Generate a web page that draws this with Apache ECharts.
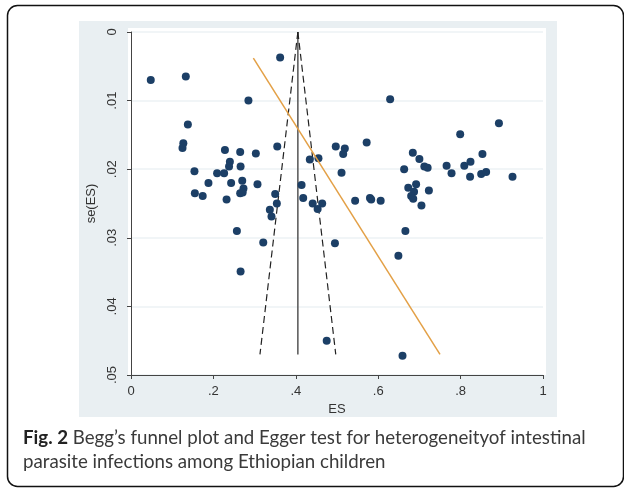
<!DOCTYPE html>
<html><head><meta charset="utf-8">
<script src="https://cdn.jsdelivr.net/npm/echarts@6/dist/echarts.min.js"></script>
<style>html,body{margin:0;padding:0;background:#fff}#c{width:624px;height:489px}</style>
</head><body><div id="c"></div>
<script>
// Study effect sizes (ES) and standard errors se(ES)
const esValues = [0.048,0.133,0.138,0.127,0.125,0.362,0.285,0.154,0.155,0.174,
  0.188,0.209,0.226,0.228,0.240,0.238,0.243,0.232,0.265,0.266,
  0.270,0.273,0.265,0.271,0.303,0.307,0.355,0.350,0.354,0.337,
  0.341,0.257,0.321,0.266,0.414,0.418,0.434,0.455,0.441,0.464,
  0.453,0.495,0.475,0.497,0.519,0.515,0.511,0.544,0.572,0.629,
  0.580,0.583,0.606,0.663,0.684,0.700,0.712,0.720,0.673,0.692,
  0.687,0.680,0.685,0.723,0.705,0.666,0.649,0.659,0.766,0.778,
  0.809,0.824,0.853,0.823,0.850,0.862,0.926,0.893,0.799];
const seValues = [0.0070,0.0065,0.0135,0.0162,0.0169,0.0037,0.0100,0.0203,0.0235,0.0239,
  0.0220,0.0206,0.0206,0.0172,0.0189,0.0196,0.0220,0.0244,0.0175,0.0196,
  0.0217,0.0228,0.0235,0.0234,0.0177,0.0222,0.0167,0.0236,0.0250,0.0259,
  0.0269,0.0290,0.0307,0.0349,0.0223,0.0242,0.0186,0.0184,0.0250,0.0250,
  0.0258,0.0308,0.0450,0.0167,0.0170,0.0178,0.0205,0.0246,0.0161,0.0098,
  0.0242,0.0244,0.0246,0.0200,0.0176,0.0185,0.0196,0.0198,0.0227,0.0222,
  0.0233,0.0239,0.0243,0.0231,0.0253,0.0290,0.0326,0.0472,0.0195,0.0206,
  0.0195,0.0189,0.0178,0.0211,0.0207,0.0204,0.0211,0.0133,0.0149];
// Pooled estimate line and funnel (pseudo 95% limits)
const pooledLineES = [0.405, 0.405];
const pooledLineSE = [0.0, 0.047];
const funnelLeftES = [0.405, 0.313];
const funnelLeftSE = [0.0, 0.047];
const funnelRightES = [0.405, 0.497];
const funnelRightSE = [0.0, 0.047];
// Egger regression line
const eggerES = [0.297, 0.750];
const eggerSE = [0.0038, 0.047];
// Tick labels
const xTickLabels = ['0', '.2', '.4', '.6', '.8', '1'];
const yTickLabels = ['0', '.01', '.02', '.03', '.04', '.05'];
const xName = 'ES';
const yName = 'se(ES)';
const captionBold = 'Fig. 2';
const captionLine1 = ' Begg\u2019s funnel plot and Egger test for heterogeneityof intestinal';
const captionLine2 = 'parasite infections among Ethiopian children';

const pairs = (xs, ys) => xs.map((x, i) => [x, ys[i]]);

const chart = echarts.init(document.getElementById('c'), null, {renderer: 'canvas'});
const axisCol = '#444';
const labelFont = 'Liberation Sans';
const capFont = 'Lato';
const capSize = 18.7;
chart.setOption({
  animation: false,
  backgroundColor: '#fff',
  grid: {left: 131, right: 81, top: 32, bottom: 114},
  xAxis: {
    type: 'value', min: 0, max: 1, interval: 0.2,
    name: xName, nameLocation: 'middle', nameGap: 24,
    nameTextStyle: {color: '#333', fontSize: 13, fontFamily: labelFont},
    axisLine: {show: true, onZero: false, lineStyle: {color: axisCol, width: 1}},
    axisTick: {show: true, length: 4, lineStyle: {color: axisCol}},
    axisLabel: {margin: 10, color: '#333', fontSize: 13, fontFamily: labelFont,
      formatter: v => xTickLabels[Math.round(v / 0.2)]},
    splitLine: {show: false}
  },
  yAxis: {
    type: 'value', min: 0, max: 0.05, interval: 0.01, inverse: true,
    name: yName, nameLocation: 'middle', nameGap: 29, nameRotate: 90,
    nameTextStyle: {color: '#333', fontSize: 13, fontFamily: labelFont},
    axisLine: {show: true, onZero: false, lineStyle: {color: axisCol, width: 1}},
    axisTick: {show: true, length: 4, lineStyle: {color: axisCol}},
    axisLabel: {margin: 12, rotate: 90, color: '#333', fontSize: 13, fontFamily: labelFont,
      formatter: v => yTickLabels[Math.round(v / 0.01)]},
    splitLine: {show: true, lineStyle: {color: '#edf2f5', width: 1.5}}
  },
  graphic: {elements: [
    {type: 'rect', z: -20, shape: {x: 79, y: 21, width: 478, height: 396}, style: {fill: '#e9eff2'}},
    {type: 'rect', z: -19, shape: {x: 128, y: 28, width: 418, height: 347}, style: {fill: '#ffffff'}},
    {type: 'rect', z: 100, shape: {x: 7.5, y: 5.5, width: 616, height: 481, r: 10},
      style: {fill: 'none', stroke: '#111', lineWidth: 1.5}},
    {type: 'text', z: 100, x: 23, y: 438, style: {
      text: '{b|' + captionBold + '}' + captionLine1,
      fill: '#3a3a3a', fontSize: capSize, fontFamily: capFont, verticalAlign: 'middle',
      rich: {b: {fontWeight: 'bold', fill: '#222', fontSize: capSize, fontFamily: capFont}}}},
    {type: 'text', z: 100, x: 23, y: 462, style: {
      text: captionLine2, fill: '#3a3a3a', fontSize: capSize, fontFamily: capFont, verticalAlign: 'middle'}}
  ]},
  series: [
    {type: 'line', data: pairs(pooledLineES, pooledLineSE), symbol: 'none', z: 3,
      lineStyle: {color: '#555', width: 1.5}},
    {type: 'line', data: pairs(funnelLeftES, funnelLeftSE), symbol: 'none', z: 3,
      lineStyle: {color: '#222', width: 1.2, type: [7, 4]}},
    {type: 'line', data: pairs(funnelRightES, funnelRightSE), symbol: 'none', z: 3,
      lineStyle: {color: '#222', width: 1.2, type: [7, 4]}},
    {type: 'scatter', data: pairs(esValues, seValues), symbol: 'circle', symbolSize: 8, z: 4,
      itemStyle: {color: '#1c3f66', opacity: 1}},
    {type: 'line', data: pairs(eggerES, eggerSE), symbol: 'none', z: 5,
      lineStyle: {color: '#e3a046', width: 1.5}}
  ]
});
</script></body></html>
